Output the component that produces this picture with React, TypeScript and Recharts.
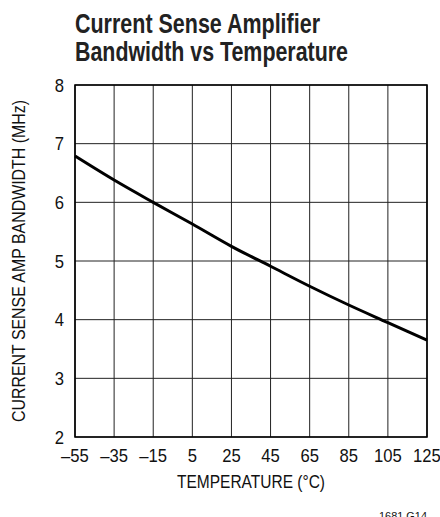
import React from 'react';
import { LineChart, Line, XAxis, YAxis, CartesianGrid, ReferenceArea } from 'recharts';

const temperatures = [-55, -35, -15, 5, 25, 45, 65, 85, 105, 125];
const bandwidthMHz = [6.79, 6.38, 6.0, 5.63, 5.25, 4.91, 4.57, 4.25, 3.95, 3.65];
const xTicks = [-55, -35, -15, 5, 25, 45, 65, 85, 105, 125];
const yTicks = [2, 3, 4, 5, 6, 7, 8];
const titleLines = ['Current Sense Amplifier', 'Bandwidth vs Temperature'];
const xLabel = 'TEMPERATURE (°C)';
const yLabel = 'CURRENT SENSE AMP BANDWIDTH (MHz)';
const footnote = '1681 G14';

const data = temperatures.map((t, i) => ({ t, bw: bandwidthMHz[i] }));

const FONT = "'Liberation Sans', Arial, Helvetica, sans-serif";
const SX = 0.9;

const fmtX = (v: number) => (v < 0 ? '\u2013' + Math.abs(v) : String(v));

const XTick = (props: any) => {
  const { x, y, payload } = props;
  return (
    <g transform={`translate(${x} ${y}) scale(${SX} 1)`}>
      <text x={0} y={0} dy="0.71em" textAnchor="middle" fontFamily={FONT} fontSize={18.5} fill="#111">
        {fmtX(payload.value)}
      </text>
    </g>
  );
};

const YTick = (props: any) => {
  const { x, y, payload } = props;
  return (
    <g transform={`translate(${x} ${y}) scale(${SX} 1)`}>
      <text x={0} y={0} dy="0.36em" textAnchor="end" fontFamily={FONT} fontSize={18.5} fill="#111">
        {payload.value}
      </text>
    </g>
  );
};

export default function App() {
  const W = 440;
  const H = 517;
  return (
    <div style={{ position: 'absolute', left: 0, top: 0, width: W, height: H, background: '#fff' }}>
      <LineChart
        width={W}
        height={H}
        data={data}
        margin={{ top: 85, right: 13, bottom: 0, left: 0 }}
      >
        <CartesianGrid stroke="#222" strokeWidth={1} horizontalValues={yTicks} verticalValues={xTicks} />
        <XAxis
          dataKey="t"
          type="number"
          domain={[-55, 125]}
          ticks={xTicks}
          interval={0}
          axisLine={false}
          tickLine={false}
          tickSize={0}
          tickMargin={12}
          height={80}
          tick={<XTick />}
          label={{
            content: (p: any) => {
              const vb = p.viewBox;
              return (
                <text
                  x={vb.x + vb.width / 2}
                  y={vb.y + 51}
                  textAnchor="middle"
                  fontFamily={FONT}
                  fontSize={18}
                  textLength={148}
                  lengthAdjust="spacingAndGlyphs"
                  fill="#111"
                >
                  {xLabel}
                </text>
              );
            },
          }}
        />
        <YAxis
          type="number"
          domain={[2, 8]}
          ticks={yTicks}
          interval={0}
          axisLine={false}
          tickLine={false}
          tickSize={0}
          tickMargin={11}
          width={75}
          tick={<YTick />}
          label={{
            content: (p: any) => {
              const vb = p.viewBox;
              const cx = 25;
              const cy = vb.y + vb.height / 2;
              return (
                <text
                  x={cx}
                  y={cy}
                  transform={`rotate(-90 ${cx} ${cy})`}
                  textAnchor="middle"
                  fontFamily={FONT}
                  fontSize={18}
                  textLength={322}
                  lengthAdjust="spacingAndGlyphs"
                  fill="#111"
                >
                  {yLabel}
                </text>
              );
            },
          }}
        />
        <ReferenceArea x1={-55} x2={125} y1={2} y2={8} fill="none" stroke="#000" strokeWidth={1.6} ifOverflow="visible" />
        <Line
          type="monotone"
          dataKey="bw"
          stroke="#000"
          strokeWidth={3}
          dot={false}
          isAnimationActive={false}
        />
      </LineChart>
      <svg width={W} height={H} style={{ position: 'absolute', left: 0, top: 0, pointerEvents: 'none' }}>
        <text
          x={75}
          y={32.5}
          fontFamily={FONT}
          fontWeight="bold"
          fontSize={27}
          textLength={245}
          lengthAdjust="spacingAndGlyphs"
          fill="#222"
        >
          {titleLines[0]}
        </text>
        <text
          x={75}
          y={60.5}
          fontFamily={FONT}
          fontWeight="bold"
          fontSize={27}
          textLength={273}
          lengthAdjust="spacingAndGlyphs"
          fill="#222"
        >
          {titleLines[1]}
        </text>
        <text
          x={427}
          y={520}
          textAnchor="end"
          fontFamily={FONT}
          fontSize={11}
          textLength={48}
          lengthAdjust="spacingAndGlyphs"
          fill="#111"
        >
          {footnote}
        </text>
      </svg>
    </div>
  );
}
